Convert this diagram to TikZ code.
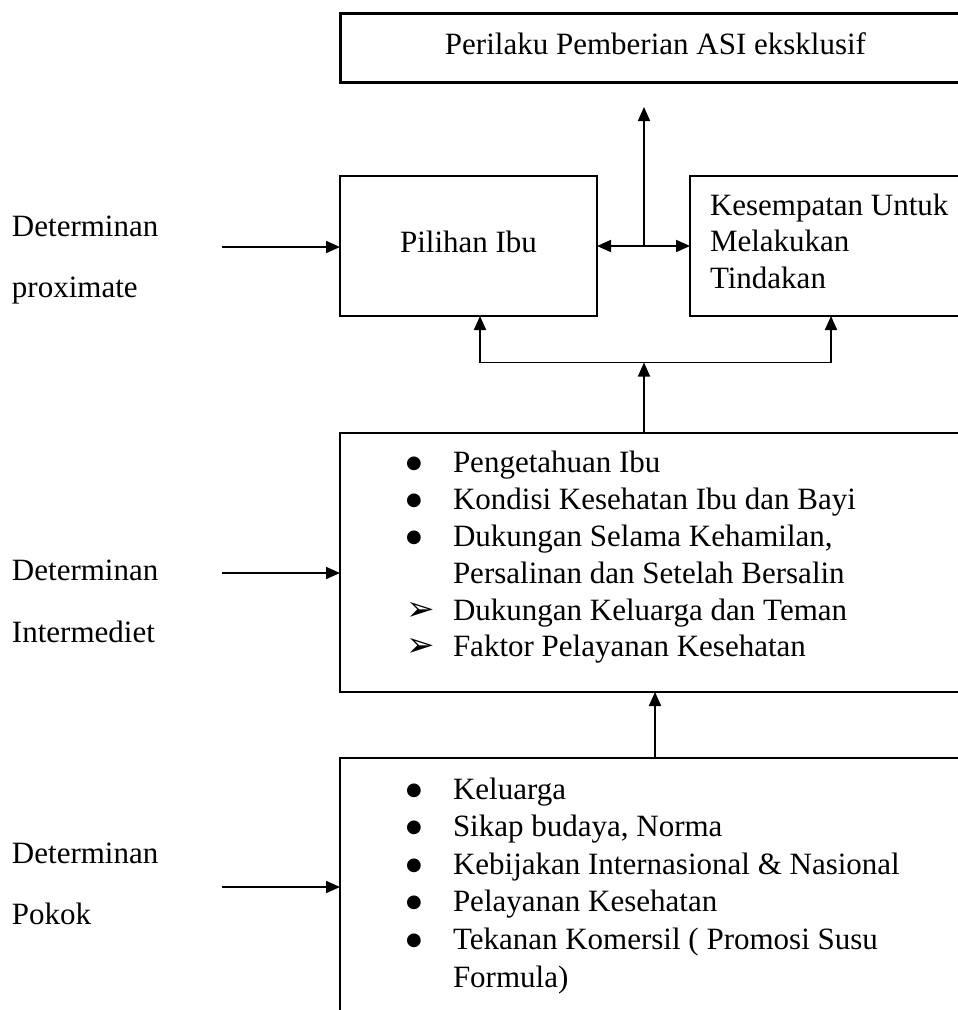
\documentclass[tikz,border=0pt]{standalone}
\usepackage{fontspec}
\setmainfont{Liberation Serif}
\newfontfamily\dejavu{DejaVu Sans}
\usetikzlibrary{arrows.meta}
\newcommand{\arrbullet}{{\dejavu\fontsize{34}{34}\selectfont ➢}}
\newcommand{\dotbullet}{\raisebox{4pt}{\dejavu\fontsize{18}{18}\selectfont ●}}
\begin{document}
\begin{tikzpicture}[x=1pt,y=-1pt,
  every node/.style={inner sep=0pt, outer sep=0pt, font=\fontsize{31}{36.8}\selectfont},
  box/.style={draw, line width=1.7pt, anchor=north west},
  arr/.style={line width=1.7pt, -{Triangle[length=14pt,width=12pt]}},
  arrboth/.style={line width=1.7pt, {Triangle[length=14pt,width=12pt]}-{Triangle[length=14pt,width=12pt]}}
]
\useasboundingbox (0,0) rectangle (958,1010);
\fill[white] (0,0) rectangle (958,1010);
\clip (0,0) rectangle (958,1010);

% boxes
\node[box, line width=3pt, minimum width=631pt, minimum height=69pt] (title) at (340,13) {};
\node[anchor=base] (titletext) at (655.5,54) {Perilaku Pemberian ASI eksklusif};

\node[box, minimum width=257pt, minimum height=140pt] (pil) at (340,176) {};
\node[anchor=base] (piltext) at (468.5,252) {Pilihan Ibu};

\node[box, minimum width=330pt, minimum height=140pt] (kes) at (690,176) {};
\node[anchor=north west] (kestext) at (710,189.4) {\begin{tabular}{@{}l@{}}Kesempatan Untuk\\Melakukan\\Tindakan\end{tabular}};

\node[box, minimum width=700pt, minimum height=259pt] (inter) at (340,433) {};
\node[anchor=north west] (intertext) at (406,447.2) {\begin{tabular}{@{}p{47pt}@{}l@{}}
\dotbullet & Pengetahuan Ibu\\
\dotbullet & Kondisi Kesehatan Ibu dan Bayi\\
\dotbullet & Dukungan Selama Kehamilan,\\
  & Persalinan dan Setelah Bersalin\\
\arrbullet & Dukungan Keluarga dan Teman\\
\arrbullet & Faktor Pelayanan Kesehatan
\end{tabular}};

\node[box, minimum width=700pt, minimum height=320pt] (pokok) at (340,758) {};
\node[anchor=north west, font=\fontsize{31}{37.6}\selectfont] (pokoktext) at (406,772.7) {\begin{tabular}{@{}p{47pt}@{}l@{}}
\dotbullet & Keluarga\\
\dotbullet & Sikap budaya, Norma\\
\dotbullet & Kebijakan Internasional \& Nasional\\
\dotbullet & Pelayanan Kesehatan\\
\dotbullet & Tekanan Komersil ( Promosi Susu\\
  & Formula)
\end{tabular}};

% left labels
\node[anchor=base west] (d1) at (12,236) {Determinan};
\node[anchor=base west] (p1) at (12,297) {proximate};
\node[anchor=base west] (d2) at (12,580) {Determinan};
\node[anchor=base west] (p2) at (12,642) {Intermediet};
\node[anchor=base west] (d3) at (12,863) {Determinan};
\node[anchor=base west] (p3) at (12,924) {Pokok};

% left arrows
\coordinate (a1) at (222,247);
\coordinate (a2) at (222,573);
\coordinate (a3) at (222,887);
\draw[arr] (a1) -- (a1 -| pil.west);
\draw[arr] (a2) -- (a2 -| inter.west);
\draw[arr] (a3) -- (a3 -| pokok.west);

% top connectors
\coordinate (j1) at (644,246);
\draw[arrboth] (pil.east) -- (kes.west);
\draw[arr, shorten >=25pt] (j1) -- (j1 |- title.south);

% middle connectors
\coordinate (j2) at (644,362.5);
\draw[arr] (inter.north -| j2) -- (j2);
\draw[arr] (j2) -| ([xshift=11.5pt]pil.south);
\draw[arr] (j2) -| ([xshift=-24pt]kes.south);

% lower connector
\coordinate (j3) at (655,700);
\draw[arr] (pokok.north -| j3) -- (inter.south -| j3);
\end{tikzpicture}
\end{document}
